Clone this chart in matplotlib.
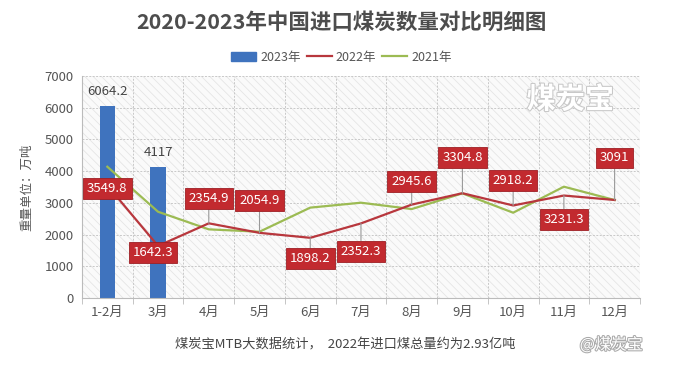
import matplotlib
matplotlib.use("Agg")
import matplotlib.pyplot as plt
from matplotlib.patches import Rectangle
from matplotlib.lines import Line2D
import matplotlib.patheffects as pe
import numpy as np

plt.rcParams['font.family'] = ['Noto Sans CJK SC', 'DejaVu Sans']
plt.rcParams['hatch.linewidth'] = 0.5

categories = ['1-2月', '3月', '4月', '5月', '6月', '7月', '8月', '9月', '10月', '11月', '12月']
v2023 = [6064.2, 4117]
v2022 = [3549.8, 1642.3, 2354.9, 2054.9, 1898.2, 2352.3, 2945.6, 3304.8, 2918.2, 3231.3, 3091]
v2021 = [4140, 2720, 2165, 2090, 2850, 3005, 2805, 3300, 2690, 3510, 3090]
label_offsets = [(0, -3), (-5, -7), (0, 25), (0, 32), (0, -21), (0, -28),
                 (0, 23), (0, 36), (0, 25), (0, -24), (0, 42)]

C_BAR = '#3F73BE'
C_RED = '#B8373D'
C_GREEN = '#9CBB53'
C_TXT = '#555555'

fig = plt.figure(figsize=(6.83, 3.75), dpi=100)
ax = fig.add_axes([0.120, 0.2053, 0.817, 0.5920])
x = np.arange(len(categories))
ax.set_xlim(-0.5, len(categories) - 0.5)
ax.set_ylim(0, 7000)

# hatched background
ax.add_patch(Rectangle((0, 0), 1, 1, transform=ax.transAxes, facecolor='#FAFAFA',
                       edgecolor='#E2E2E2', hatch='\\\\\\\\', lw=0, zorder=0))

# grid
for yv in range(1000, 7001, 1000):
    ax.axhline(yv, color='#C8C8C8', lw=0.7, ls=(0, (2, 1.5)), zorder=0.5)
for xb in np.arange(0.5, len(categories) - 0.5, 1):
    ax.axvline(xb, color='#C8C8C8', lw=0.7, ls=(0, (2, 1.5)), zorder=0.5)
ax.axvline(len(categories) - 0.5, color='#DDDDDD', lw=0.7, zorder=0.5)

ax.bar(x[:len(v2023)], v2023, width=0.30, color=C_BAR, zorder=2)
for xi, v in zip(x[:len(v2023)], v2023):
    ax.annotate(f'{v:g}', (xi, v), xytext=(0, 8), textcoords='offset pixels',
                ha='center', va='bottom', fontsize=9.5, color='#444444', zorder=5)

ax.plot(x, v2021, color=C_GREEN, lw=1.6, zorder=3)
ax.plot(x, v2022, color=C_RED, lw=1.6, zorder=3.5)

for xi, v, (dx, dy) in zip(x, v2022, label_offsets):
    ax.annotate(f'{v:g}', (xi, v), xytext=(dx, dy), textcoords='offset pixels',
                ha='center', va='center', fontsize=9.5, color='white', zorder=6,
                bbox=dict(boxstyle='square,pad=0.3', fc='#C22A2F', ec='#9E1F24', lw=0.6),
                arrowprops=dict(arrowstyle='-', color='#999999', lw=0.8,
                                shrinkA=0, shrinkB=0) if abs(dy) > 10 else None)

ax.set_yticks(range(0, 7001, 1000))
ax.set_xticks(x)
ax.set_xticklabels(categories)
ax.set_xticks(np.arange(-0.5, len(categories), 1), minor=True)
ax.tick_params(axis='x', which='major', length=0, labelsize=9.5, colors=C_TXT, pad=6)
ax.tick_params(axis='x', which='minor', length=4, color='#BBBBBB')
ax.tick_params(axis='y', length=0, labelsize=9.5, colors=C_TXT, pad=6)
for s in ['top', 'right']:
    ax.spines[s].set_visible(False)
ax.spines['left'].set_color('#BBBBBB')
ax.spines['bottom'].set_color('#BBBBBB')
ax.spines['left'].set_linewidth(0.8)
ax.spines['bottom'].set_linewidth(0.8)

ax.set_ylabel('重量单位：万吨', fontsize=9, color=C_TXT, labelpad=8)

fig.text(0.50, 0.94, '2020-2023年中国进口煤炭数量对比明细图', ha='center', va='center',
         fontsize=15.5, fontweight='bold', color='#4D4D4D')

handles = [Rectangle((0, 0), 1, 1, color=C_BAR),
           Line2D([], [], color=C_RED, lw=1.6),
           Line2D([], [], color=C_GREEN, lw=1.6)]
leg = fig.legend(handles, ['2023年', '2022年', '2021年'], loc='center',
                 bbox_to_anchor=(0.5, 0.848), ncol=3, frameon=False, fontsize=9,
                 handlelength=2.0, handleheight=0.7, handletextpad=0.3, columnspacing=0.5)
for t in leg.get_texts():
    t.set_color(C_TXT)

# watermark
fig.text(0.835, 0.735, '煤炭宝', ha='center', va='center', fontsize=21, color='white',
         fontweight='bold',
         path_effects=[pe.withStroke(linewidth=1.5, foreground='#C8C8C8')], zorder=10)

fig.text(0.505, 0.080, '煤炭宝MTB大数据统计，  2022年进口煤总量约为2.93亿吨', ha='center',
         va='center', fontsize=9.5, color='#444444')
fig.text(0.895, 0.080, '@煤炭宝', ha='center', va='center', fontsize=11.5, color='white',
         path_effects=[pe.withStroke(linewidth=1.5, foreground='#AAAAAA')])

fig.savefig('out.png', dpi=100)
